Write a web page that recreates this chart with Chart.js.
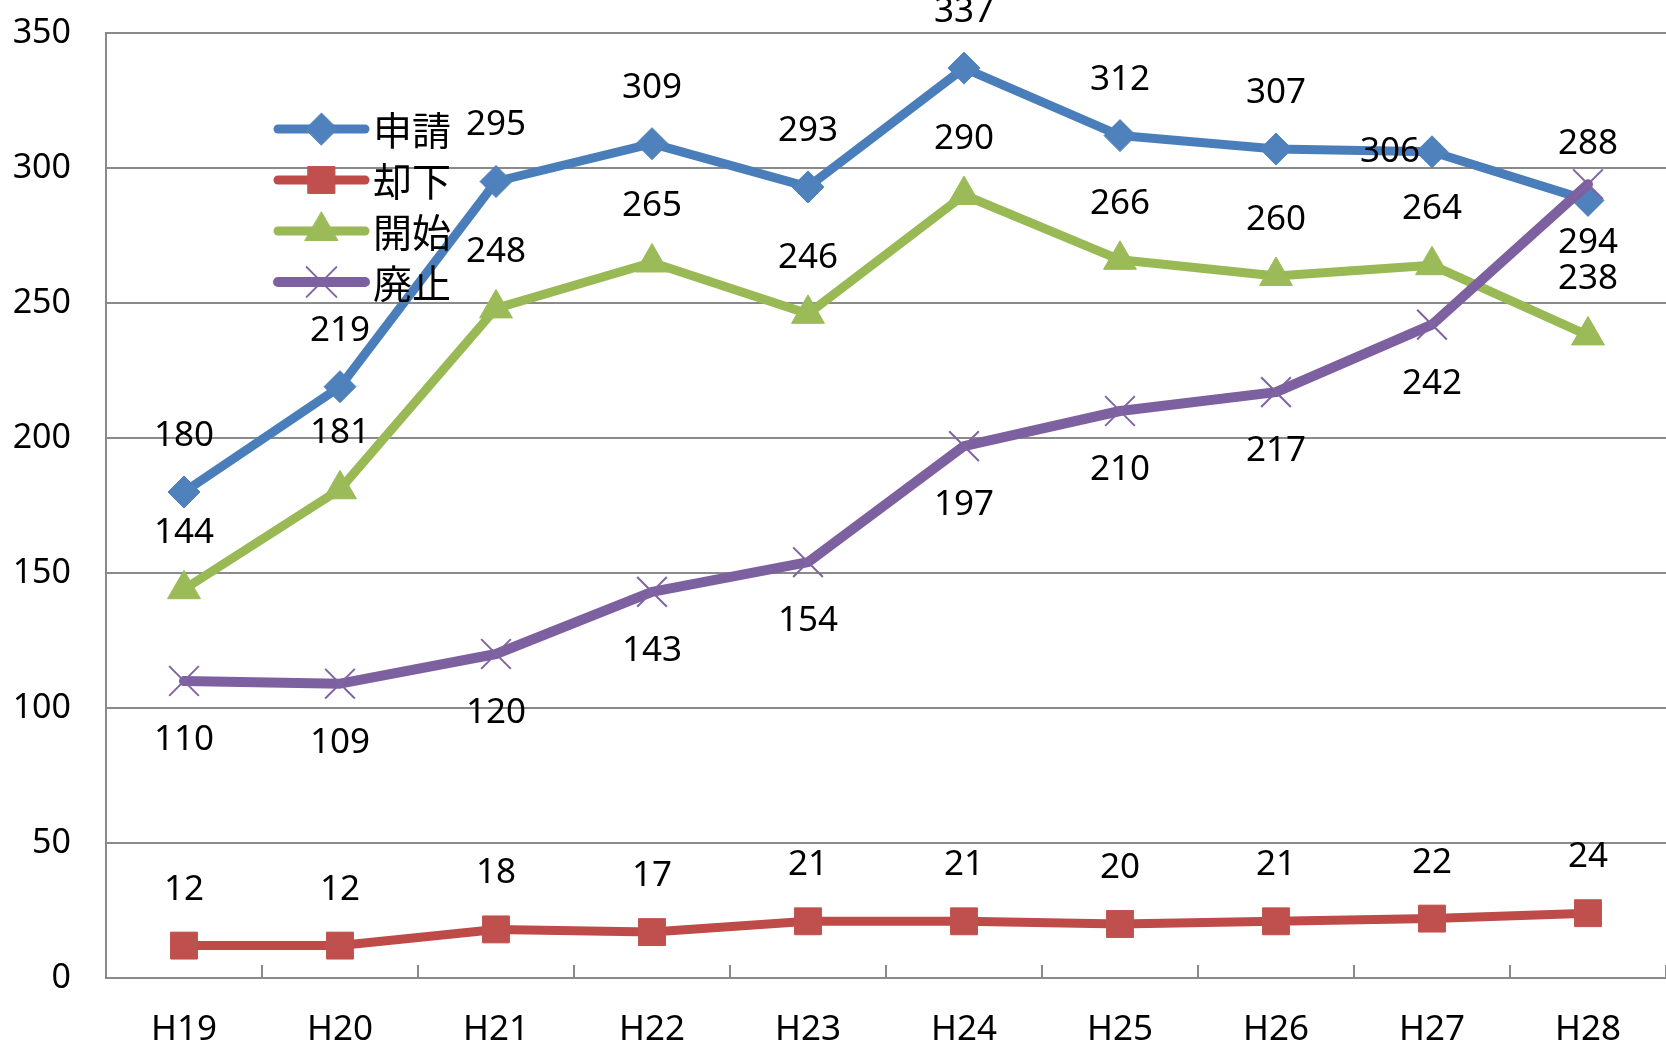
<!DOCTYPE html>
<html lang="ja">
<head>
<meta charset="utf-8">
<script src="https://cdn.jsdelivr.net/npm/chart.js@4.4.1/dist/chart.umd.min.js"></script>
<style>
  body { margin: 0; background: #fff; }
  #wrap { width: 1666px; height: 1049px; }
</style>
</head>
<body>
<div id="wrap"><canvas id="chart" width="1666" height="1049"></canvas></div>

<script>
"use strict";

// years (Heisei)
var years = ['H19', 'H20', 'H21', 'H22', 'H23', 'H24', 'H25', 'H26', 'H27', 'H28'];

var shinsei = [180, 219, 295, 309, 293, 337, 312, 307, 306, 288];  // 申請
var kyakka  = [12, 12, 18, 17, 21, 21, 20, 21, 22, 24];             // 却下
var kaishi  = [144, 181, 248, 265, 246, 290, 266, 260, 264, 238];  // 開始
var haishi  = [110, 109, 120, 143, 154, 197, 210, 217, 242, 294];  // 廃止

var yTicks = [0, 50, 100, 150, 200, 250, 300, 350];

var gridColor = '#8a8a8a';
var numFont = '35px "Noto Sans", sans-serif';

// value labels above the points, 廃止 below; 306 sits left of its marker
var valueLabels = {
  id: 'valueLabels',
  afterDatasetsDraw: function(chart) {
    var ctx = chart.ctx;
    ctx.save();
    ctx.font = numFont;
    ctx.fillStyle = '#000';
    ctx.textAlign = 'center';
    ctx.textBaseline = 'middle';
    chart.data.datasets.forEach(function(ds, di) {
      var meta = chart.getDatasetMeta(di);
      meta.data.forEach(function(pt, i) {
        var x = pt.x, y = pt.y;
        if (ds.labelPos === 'below') {
          y += 59;
        } else if (di === 0 && i === 8) {
          x -= 42;
        } else {
          y -= 56;
        }
        ctx.fillText(String(ds.data[i]), x, y);
      });
    });
    ctx.restore();
  }
};

// legend drawn inside the plot area
var innerLegend = {
  id: 'innerLegend',
  afterDraw: function(chart) {
    var ctx = chart.ctx;
    var a = chart.chartArea;
    var x0 = a.left + 172, x1 = a.left + 259, xm = (x0 + x1) / 2;
    ctx.save();
    chart.data.datasets.forEach(function(ds, i) {
      var y = a.top + 96 + i * 51;
      ctx.strokeStyle = ds.borderColor;
      ctx.lineWidth = ds.borderWidth;
      ctx.lineCap = 'round';
      ctx.beginPath();
      ctx.moveTo(x0, y);
      ctx.lineTo(x1, y);
      ctx.stroke();
      ctx.fillStyle = ds.pointBackgroundColor;
      ctx.strokeStyle = ds.pointBorderColor;
      ctx.lineWidth = ds.pointBorderWidth;
      Chart.helpers.drawPoint(ctx, {
        pointStyle: ds.pointStyle,
        radius: ds.pointRadius,
        rotation: 0,
        borderWidth: ds.pointBorderWidth
      }, xm, y);
      ctx.fillStyle = '#000';
      ctx.font = '39px "Noto Sans CJK JP", sans-serif';
      ctx.textAlign = 'left';
      ctx.textBaseline = 'middle';
      ctx.fillText(ds.label, x1 + 8, y + 1);
    });
    ctx.restore();
  }
};

// short tick marks between categories, pointing up into the plot
var innerTicks = {
  id: 'innerTicks',
  afterDatasetsDraw: function(chart) {
    var ctx = chart.ctx;
    var xs = chart.scales.x;
    var bottom = chart.chartArea.bottom;
    ctx.save();
    ctx.strokeStyle = gridColor;
    ctx.lineWidth = 2;
    ctx.beginPath();
    for (var i = 1; i <= years.length; i++) {
      var px = Math.round(xs.getPixelForValue(i - 0.5));
      ctx.moveTo(px, bottom);
      ctx.lineTo(px, bottom - 13);
    }
    ctx.stroke();
    ctx.restore();
  }
};

function series(label, data, line, marker, style, radius, width, borderW, order, pos) {
  return {
    label: label,
    data: data,
    borderColor: line,
    borderWidth: width,
    borderCapStyle: 'round',
    borderJoinStyle: 'round',
    pointStyle: style,
    pointRadius: radius,
    pointHoverRadius: radius,
    pointBackgroundColor: marker,
    pointBorderColor: marker,
    pointBorderWidth: borderW,
    tension: 0,
    fill: false,
    order: order,
    labelPos: pos
  };
}

var ctx1 = document.getElementById('chart');
var lineChart = new Chart(ctx1, {
  type: 'line',
  data: {
    labels: years,
    datasets: [
      series('申請', shinsei, '#4a7ebb', '#4f81bd', 'rectRot', 16, 9, 1, 4, 'above'),
      series('却下', kyakka,  '#be4b48', '#c0504d', 'rect', 19, 9, 1, 3, 'above'),
      series('開始', kaishi,  '#98b954', '#9bbb59', 'triangle', 19, 9, 1, 2, 'above'),
      series('廃止', haishi,  '#7d60a0', '#8064a2', 'crossRot', 21, 10, 2, 1, 'below')
    ]
  },
  options: {
    responsive: false,
    animation: false,
    layout: { autoPadding: false, padding: { top: 33, right: 0, left: 0, bottom: 0 } },
    plugins: {
      legend: { display: false },
      tooltip: { enabled: false }
    },
    scales: {
      x: {
        offset: true,
        // invisible tick length keeps the labels away from the axis
        grid: { display: true, drawOnChartArea: false, drawTicks: true, tickLength: 31,
                tickColor: 'rgba(0,0,0,0)', offset: true },
        border: { display: true, color: gridColor, width: 2 },
        ticks: { color: '#000', font: { family: '"Noto Sans", sans-serif', size: 35 }, padding: 0, maxRotation: 0 },
        afterFit: function(s) { s.height = 71; }
      },
      y: {
        min: 0,
        max: 350,
        afterBuildTicks: function(s) { s.ticks = yTicks.map(function(v) { return { value: v }; }); },
        grid: { color: gridColor, lineWidth: 2, drawTicks: true, tickLength: 35, tickColor: 'rgba(0,0,0,0)' },
        border: { display: true, color: gridColor, width: 2 },
        ticks: { color: '#000', font: { family: '"Noto Sans", sans-serif', size: 34 }, padding: 0 },
        afterFit: function(s) { s.width = 106; }
      }
    }
  },
  plugins: [innerTicks, valueLabels, innerLegend]
});
</script>
</body>
</html>
